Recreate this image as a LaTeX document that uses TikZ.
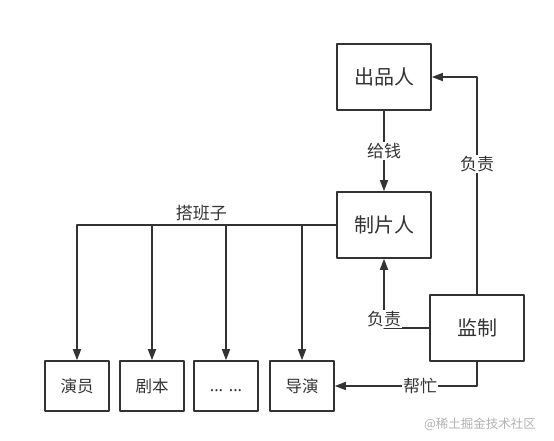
\documentclass[tikz,border=0pt]{standalone}
\usepackage{fontspec}
\setmainfont{Noto Sans CJK SC}
\newfontfamily\latin{Noto Sans}
\usetikzlibrary{arrows.meta}
\definecolor{ligne}{HTML}{333333}
\begin{document}
\begin{tikzpicture}[line cap=round,line join=round,x=1pt,y=-1pt,
		boite/.style={draw=ligne,line width=1.6pt,text=ligne,minimum width=94pt,minimum height=66pt,font=\fontsize{20}{22}\selectfont},
		petite/.style={boite,minimum width=64pt,minimum height=50pt,font=\fontsize{16.5}{18}\selectfont},
		fl/.style={draw=ligne,line width=1.6pt,-{Triangle[length=11pt,width=8pt]}},
		lab/.style={fill=white,inner sep=1pt,text=ligne,font=\fontsize{17}{19}\selectfont}]
				\useasboundingbox (0,0) rectangle (554,441);
				% Haut
				\node[boite] (chupin) at (384,77) {出品人};
				\node[boite] (zhipian) at (384,225) {制片人};
				\node[boite] (jianzhi) at (477,328) {监制};
				% Bas
				\node[petite] (yanyuan) at (77,386) {演员};
				\node[petite] (juben) at (152,386) {剧本};
				\node[petite] (autres) at (226,386) {\vphantom{导}{\latin .\kern0pt.\kern0pt. .\kern0pt.\kern0pt.}};
				\node[petite] (daoyan) at (302,386) {导演};
				% Fleches
				\draw[fl] (chupin.south)--(zhipian.north) node[lab,midway]{给钱};
				\draw[fl] (jianzhi.north) |- (chupin.east) node[lab,pos=0.3]{负责};
				\draw[fl] (jianzhi.west) -| (zhipian.south) node[lab,pos=0.5,yshift=9pt]{负责};
				\draw[fl] (jianzhi.south) |- (daoyan.east) node[lab,pos=0.7]{帮忙};
				\draw[fl] (zhipian.west) -| (yanyuan.north) node[pos=0.26,above,text=ligne,font=\fontsize{17}{19}\selectfont]{搭班子};
				\draw[fl] (juben.north |- zhipian.west)--(juben.north);
				\draw[fl] (autres.north |- zhipian.west)--(autres.north);
				\draw[fl] (daoyan.north |- zhipian.west)--(daoyan.north);
				% Filigrane
				\node[text=black!30,font=\fontsize{12.5}{14}\selectfont] (marque) at (480,424) {@稀土掘金技术社区};
		\end{tikzpicture}
\end{document}
